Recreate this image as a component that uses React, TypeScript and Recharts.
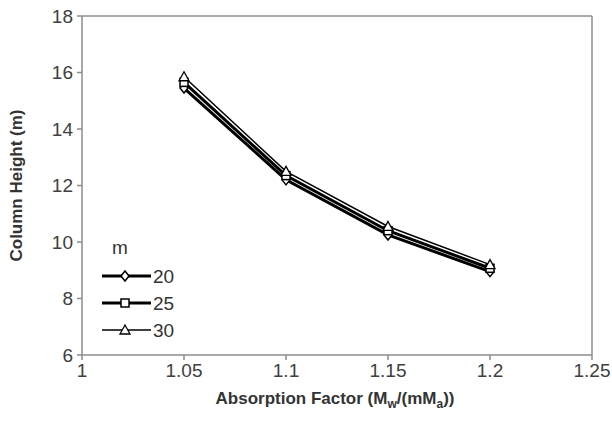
import {
  Label,
  Line,
  LineChart,
  ReferenceLine,
  XAxis,
  YAxis,
} from 'recharts';

const factors = [1.05, 1.1, 1.15, 1.2];
const m20 = [15.45, 12.2, 10.25, 8.95];
const m25 = [15.65, 12.35, 10.4, 9.07];
const m30 = [15.85, 12.5, 10.55, 9.2];
const xTicks = [1, 1.05, 1.1, 1.15, 1.2, 1.25];
const yTicks = [6, 8, 10, 12, 14, 16, 18];

const data = factors.map((f, i) => ({ f, m20: m20[i], m25: m25[i], m30: m30[i] }));

const AXIS = '#8c8c8c';
const FONT = '"Liberation Sans", Arial, sans-serif';

type Shape = 'diamond' | 'square' | 'triangle';

function marker(shape: Shape, cx: number, cy: number, key?: string) {
  const s = 4;
  if (shape === 'diamond') {
    return (
      <path
        key={key}
        d={`M${cx},${cy - s - 1}L${cx + s},${cy}L${cx},${cy + s + 1}L${cx - s},${cy}Z`}
        fill="#fff"
        stroke="#000"
        strokeWidth={1.5}
      />
    );
  }
  if (shape === 'square') {
    return (
      <rect key={key} x={cx - s} y={cy - s} width={s * 2} height={s * 2} fill="#fff" stroke="#000" strokeWidth={1.5} />
    );
  }
  return (
    <path
      key={key}
      d={`M${cx},${cy - s - 1}L${cx + s + 1},${cy + s}L${cx - s - 1},${cy + s}Z`}
      fill="#fff"
      stroke="#000"
      strokeWidth={1.3}
    />
  );
}

const dotFor = (shape: Shape) => (p: any) => marker(shape, p.cx, p.cy, `${shape}-${p.index}`);

const legendItems: { label: string; shape: Shape; width: number }[] = [
  { label: '20', shape: 'diamond', width: 3 },
  { label: '25', shape: 'square', width: 3 },
  { label: '30', shape: 'triangle', width: 1.5 },
];

function LegendBox() {
  return (
    <svg width={95} height={115} style={{ fontFamily: FONT, display: 'block' }}>
      <text x={12} y={21} fontSize={19} fill="#333">
        m
      </text>
      {legendItems.map((it, i) => {
        const y = 43 + i * 27;
        return (
          <g key={it.label}>
            <line x1={2} x2={51} y1={y} y2={y} stroke="#000" strokeWidth={it.width} />
            {marker(it.shape, 25, y)}
            <text x={53} y={y + 7} fontSize={19} fill="#333">
              {it.label}
            </text>
          </g>
        );
      })}
    </svg>
  );
}

function XTitle(props: any) {
  const vb = props.viewBox;
  const cx = vb.x + vb.width / 2 - 2;
  return (
    <text x={cx} y={404} textAnchor="middle" fontSize={17} fontWeight="bold" fill="#333" fontFamily={FONT}>
      Absorption Factor (M
      <tspan fontSize={12} dy={4}>w</tspan>
      <tspan dy={-4}>/(mM</tspan>
      <tspan fontSize={12} dy={4}>a</tspan>
      <tspan dy={-4}>))</tspan>
    </text>
  );
}

function YTitle(props: any) {
  const vb = props.viewBox;
  const cy = vb.y + vb.height / 2;
  return (
    <text
      x={22}
      y={cy}
      transform={`rotate(-90, 22, ${cy})`}
      textAnchor="middle"
      fontSize={17}
      fontWeight="bold"
      fill="#333"
      fontFamily={FONT}
    >
      Column Height (m)
    </text>
  );
}

export default function App() {
  return (
    <div style={{ position: 'absolute', left: 0, top: 0, width: 612, height: 427, background: '#fff' }}>
      <LineChart width={612} height={427} data={data} margin={{ top: 16, right: 20, left: 0, bottom: 0 }}>
        <XAxis
          dataKey="f"
          type="number"
          domain={[1, 1.25]}
          ticks={xTicks}
          tickFormatter={(v) => String(v)}
          height={72}
          stroke={AXIS}
          strokeWidth={1.5}
          tickSize={5}
          tick={{ fontSize: 19, fill: '#404040', fontFamily: FONT }}
          tickMargin={4}
          allowDataOverflow
        >
          <Label content={XTitle} />
        </XAxis>
        <YAxis
          type="number"
          domain={[6, 18]}
          ticks={yTicks}
          width={82}
          stroke={AXIS}
          strokeWidth={1.5}
          tickSize={5}
          tick={{ fontSize: 19, fill: '#404040', fontFamily: FONT }}
          tickMargin={4}
          allowDataOverflow
        >
          <Label content={YTitle} />
        </YAxis>
        <ReferenceLine y={18} stroke={AXIS} strokeWidth={1.5} />
        <ReferenceLine x={1.25} stroke={AXIS} strokeWidth={1.5} />
        <Line dataKey="m20" stroke="#000" strokeWidth={3} dot={dotFor('diamond')} isAnimationActive={false} />
        <Line dataKey="m25" stroke="#000" strokeWidth={3} dot={dotFor('square')} isAnimationActive={false} />
        <Line dataKey="m30" stroke="#000" strokeWidth={1.5} dot={dotFor('triangle')} isAnimationActive={false} />
      </LineChart>
      <div style={{ position: 'absolute', left: 100, top: 233 }}>
        <LegendBox />
      </div>
    </div>
  );
}
